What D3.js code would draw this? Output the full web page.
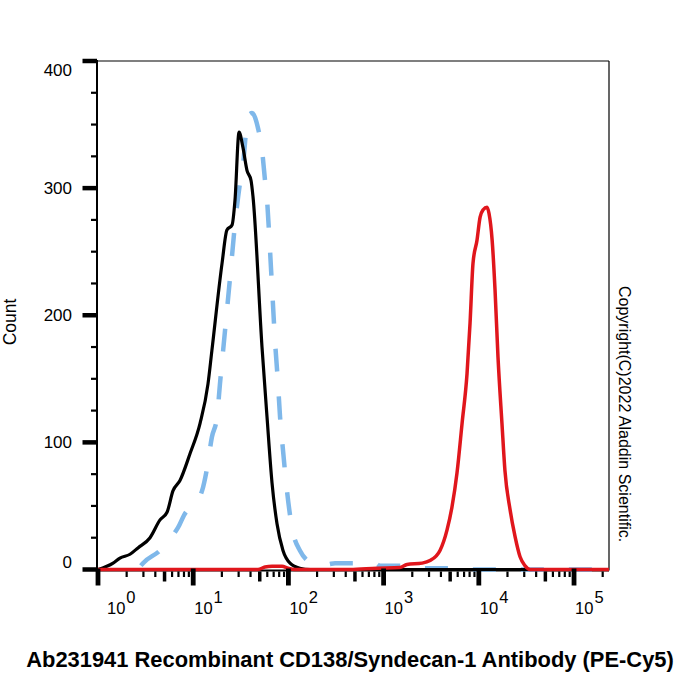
<!DOCTYPE html>
<html>
<head>
<meta charset="utf-8">
<script src="https://cdn.jsdelivr.net/npm/d3@7"></script>
<style>
  html, body { margin: 0; padding: 0; background: #fff; }
  svg { display: block; font-family: "Liberation Sans", Arial, sans-serif; }
</style>
</head>
<body>
<svg id="chart" width="700" height="700"></svg>
<script>
// ---------- data (fluorescence intensity, count) ----------
const yTicks = [0, 100, 200, 300, 400];
const xDecades = [1, 10, 100, 1000, 10000, 100000];
const xDecadeExp = ["0", "1", "2", "3", "4", "5"];

// Black solid (unstained / control)
const blackX = [1, 1.44, 1.70, 2.17, 2.63, 3.52, 4.48, 5.31, 6.14, 7.26, 9.25, 11.8, 14.3, 15.7, 20.1, 22.6, 25.6, 27.5, 30.3, 33.3, 36.7, 40.5, 42.5, 52.8, 59.6, 67.3, 75.9, 87.7, 104, 132, 169, 233000];
const blackY = [0, 5, 9, 12, 17, 25, 39, 45, 62, 70, 91, 115, 146, 172, 241, 267, 271, 291, 344, 332, 314, 306, 293, 175, 120, 68, 36, 15, 5, 1, 0, 0];

// Blue dashed (isotype control)
const blueX = [2.82, 2.97, 4.48, 6.92, 8.61, 9.25, 12.4, 14.0, 15.7, 17.8, 19.1, 20.6, 24.4, 27.5, 31.0, 33.3, 37.7, 41.5, 48.0, 52.8, 56.8, 59.6, 64.1, 67.3, 72.3, 77.8, 81.7, 87.7, 96.6, 109, 132, 181, 254, 309, 813, 912, 1480, 2000, 4680, 7080, 233000];
const blueY = [3, 5, 15, 33, 46, 47, 62, 80, 104, 120, 146, 172, 230, 272, 304, 318, 357, 359, 347, 330, 306, 291, 251, 222, 180, 146, 120, 94, 62, 33, 15, 5, 4, 5, 5, 3, 3, 1, 1, 0, 0];

// Red solid (CD138 stained)
const redX = [1, 47.9, 56.8, 67.3, 85.7, 99.1, 117, 444, 851, 1480, 1760, 2530, 3070, 3910, 4630, 5220, 5900, 6670, 7520, 8090, 8690, 9570, 10300, 11100, 12200, 12800, 13800, 14800, 15900, 17500, 18800, 21300, 24000, 27100, 30500, 34500, 233000];
const redY = [0, 0, 2, 2.5, 2.5, 1, 0, 0, 1, 1.5, 4, 5, 7, 15, 31, 49, 76, 115, 154, 194, 241, 259, 277, 283, 285, 280, 259, 220, 167, 115, 78, 47, 26, 10, 3, 0, 0];

const yLabel = "Count";
const title = "Ab231941 Recombinant CD138/Syndecan-1 Antibody (PE-Cy5)";
const copyright = "Copyright(C)2022 Aladdin Scientific.";

// ---------- layout ----------
const svg = d3.select("#chart");
const pL = 97, pR = 609, pT = 61, pB = 569.5;
const xMax = 233000;

const x = d3.scaleLog().domain([1, xMax]).range([98, pR]);
const y = d3.scaleLinear().domain([0, 400]).range([pB, pT]);

// frame (top & right)
svg.append("line").attr("x1", pL).attr("x2", pR).attr("y1", pT).attr("y2", pT)
  .attr("stroke", "#000").attr("stroke-width", 1.2);
svg.append("line").attr("x1", pR).attr("x2", pR).attr("y1", pT).attr("y2", pB + 1)
  .attr("stroke", "#000").attr("stroke-width", 1.2);

// ---------- curves ----------
const line = d3.line().x(d => x(d[0])).y(d => y(d[1])).curve(d3.curveMonotoneX);
const toPts = (xs, ys) => xs.map((v, i) => [v, ys[i]]);

// x axis baseline
svg.append("line").attr("x1", pL).attr("x2", pR).attr("y1", pB + 1).attr("y2", pB + 1)
  .attr("stroke", "#000").attr("stroke-width", 2);

svg.append("path").datum(toPts(blueX, blueY)).attr("d", line)
  .attr("fill", "none").attr("stroke", "#7fb8ea").attr("stroke-width", 4.5)
  .attr("stroke-dasharray", "23,25");

svg.append("path").datum(toPts(blackX, blackY)).attr("d", line)
  .attr("fill", "none").attr("stroke", "#000").attr("stroke-width", 3.2)
  .attr("stroke-linejoin", "round");

svg.append("path").datum(toPts(redX, redY)).attr("d", line)
  .attr("fill", "none").attr("stroke", "#e0161c").attr("stroke-width", 3.5)
  .attr("stroke-linejoin", "round");

// ---------- y axis ----------
svg.append("line").attr("x1", pL).attr("x2", pL).attr("y1", pT - 1).attr("y2", pB + 2)
  .attr("stroke", "#000").attr("stroke-width", 2);

const yMinor = d3.range(0, 401, 25).filter(v => !yTicks.includes(v));
svg.selectAll(".ymin").data(yMinor).enter().append("line")
  .attr("x1", 91).attr("x2", pL).attr("y1", d => y(d)).attr("y2", d => y(d))
  .attr("stroke", "#000").attr("stroke-width", 2.2);
svg.selectAll(".ymaj").data(yTicks).enter().append("line")
  .attr("x1", 82.5).attr("x2", pL).attr("y1", d => y(d)).attr("y2", d => y(d))
  .attr("stroke", "#000").attr("stroke-width", 4.5);
svg.selectAll(".ylab").data(yTicks).enter().append("text")
  .attr("x", 72)
  .attr("y", d => y(d) + (d === 400 ? 9 : d === 0 ? -7 : 0))
  .attr("dy", "0.35em")
  .attr("text-anchor", "end")
  .attr("font-size", 17)
  .text(d => d);

svg.append("text")
  .attr("transform", "translate(16,322) rotate(-90)")
  .attr("text-anchor", "middle")
  .attr("font-size", 17.5)
  .text(yLabel);

// ---------- x axis ----------
const mant = d => Math.round(d / Math.pow(10, Math.floor(Math.log10(d) + 1e-9)));
const xMinor = [];
xDecades.forEach(d => { for (let k = 2; k <= 9; k++) { if (d * k <= xMax) xMinor.push(d * k); } });
const axisY = pB + 2;
svg.selectAll(".xmin").data(xMinor).enter().append("line")
  .attr("x1", d => x(d)).attr("x2", d => x(d))
  .attr("y1", axisY).attr("y2", d => axisY + (mant(d) === 5 ? 10 : 5.5))
  .attr("stroke", "#000")
  .attr("stroke-width", d => (mant(d) === 5 ? 3.5 : 2.2));
svg.selectAll(".xmaj").data(xDecades).enter().append("line")
  .attr("x1", d => x(d)).attr("x2", d => x(d))
  .attr("y1", axisY - 3).attr("y2", axisY + 14)
  .attr("stroke", "#000").attr("stroke-width", 4.8);

const xl = svg.selectAll(".xlab").data(xDecades).enter().append("text")
  .attr("x", (d, i) => x(d) + (i === 0 ? 9 : 1))
  .attr("y", 614)
  .attr("font-size", 16.5);
xl.append("tspan").text("10");
xl.append("tspan").attr("dx", 1).attr("dy", -11).text((d, i) => xDecadeExp[i]);

// ---------- title & copyright ----------
svg.append("text")
  .attr("x", 350).attr("y", 667)
  .attr("text-anchor", "middle")
  .attr("font-size", 21.9)
  .attr("font-weight", "bold")
  .text(title);

svg.append("text")
  .attr("transform", "translate(619,286) rotate(90)")
  .attr("font-size", 16)
  .text(copyright);
</script>
</body>
</html>
